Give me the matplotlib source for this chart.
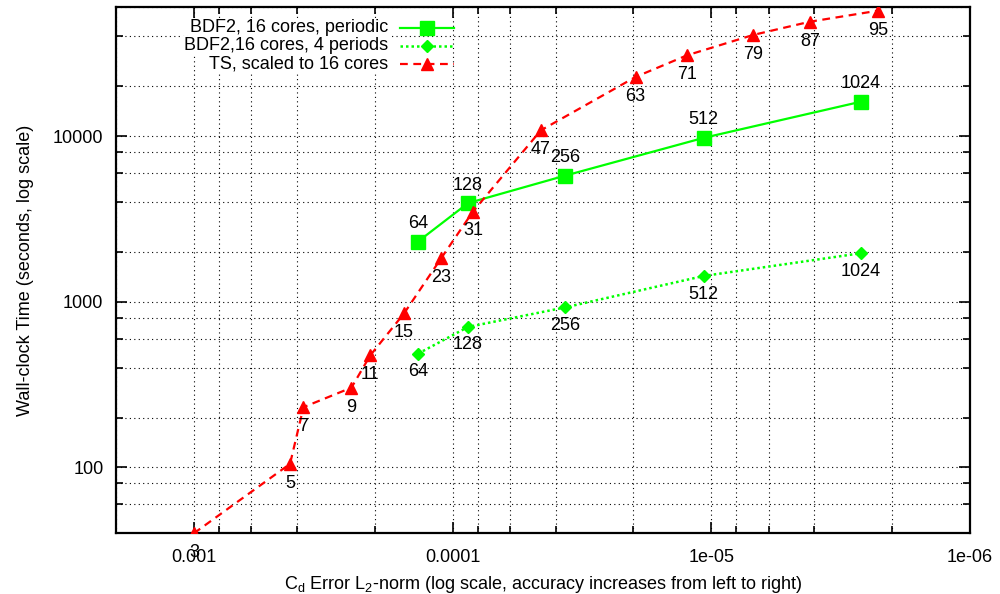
import matplotlib
matplotlib.use("Agg")
import matplotlib.pyplot as plt
from matplotlib.ticker import FixedLocator, NullFormatter

plt.rcParams["font.family"] = ["Liberation Sans", "DejaVu Sans"]
plt.rcParams["mathtext.fontset"] = "custom"
plt.rcParams["mathtext.rm"] = "Liberation Sans"
plt.rcParams["mathtext.it"] = "Liberation Sans:italic"

# --- data ---
# BDF2 runs (labels = number of time steps per period)
bdf_err = [1.36e-4, 8.71e-5, 3.67e-5, 1.07e-5, 2.64e-6]
bdf_periodic_time = [2311, 3945, 5780, 9770, 16150]
bdf_4periods_time = [486, 705, 925, 1432, 1964]
bdf_labels = ["64", "128", "256", "512", "1024"]

# time-spectral runs (labels = number of time instances)
ts_err = [1.0e-3, 4.25e-4, 3.77e-4, 2.46e-4, 2.08e-4, 1.54e-4, 1.107e-4,
          8.34e-5, 4.56e-5, 1.96e-5, 1.24e-5, 6.87e-6, 4.16e-6, 2.26e-6]
ts_time = [40, 105, 231, 303, 475, 851, 1832,
           3508, 10840, 22800, 30800, 40900, 49100, 57300]
ts_labels = ["3", "5", "7", "9", "11", "15", "23",
             "31", "47", "63", "71", "79", "87", "95"]

x_major = [1e-3, 1e-4, 1e-5, 1e-6]
x_major_labels = ["0.001", "0.0001", "1e-05", "1e-06"]
y_major = [100, 1000, 10000]
y_major_labels = ["100", "1000", "10000"]

GREEN = "#00ff00"
RED = "#ff0000"
FS = 13

fig = plt.figure(figsize=(10, 5.94), dpi=100)
ax = fig.add_axes([0.116, 0.1022, 0.854, 0.8855])

ax.plot(bdf_err, bdf_periodic_time, color=GREEN, lw=1.6, ls="-",
        marker="s", ms=10, zorder=3)
ax.plot(bdf_err, bdf_4periods_time, color=GREEN, lw=1.8, ls=(0, (1, 1.2)),
        marker="D", ms=6.5, zorder=3)
ax.plot(ts_err, ts_time, color=RED, lw=1.6, ls=(0, (3.5, 2.5)),
        marker="^", ms=9, zorder=3)

for x, y, s in zip(bdf_err, bdf_periodic_time, bdf_labels):
    ax.annotate(s, (x, y), xytext=(0, 13), textcoords="offset points",
                ha="center", va="center", fontsize=FS)
for x, y, s in zip(bdf_err, bdf_4periods_time, bdf_labels):
    ax.annotate(s, (x, y), xytext=(0, -13), textcoords="offset points",
                ha="center", va="center", fontsize=FS)
for x, y, s in zip(ts_err, ts_time, ts_labels):
    ax.annotate(s, (x, y), xytext=(0, -14), textcoords="offset points",
                ha="center", va="center", fontsize=FS, annotation_clip=False)

ax.set_xscale("log")
ax.set_yscale("log")
ax.set_xlim(2e-3, 1e-6)
ax.set_ylim(40, 60000)

x_minor = [m * 10.0 ** e for e in range(-7, -2) for m in (2, 4, 6, 8)]
y_minor = [m * 10.0 ** e for e in range(1, 5) for m in (2, 4, 6, 8)]
ax.xaxis.set_major_locator(FixedLocator(x_major))
ax.xaxis.set_minor_locator(FixedLocator(x_minor))
ax.yaxis.set_major_locator(FixedLocator(y_major))
ax.yaxis.set_minor_locator(FixedLocator(y_minor))
ax.set_xticklabels(x_major_labels)
ax.set_yticklabels(y_major_labels)
ax.xaxis.set_minor_formatter(NullFormatter())
ax.yaxis.set_minor_formatter(NullFormatter())

ax.tick_params(which="both", direction="in", top=True, right=True,
               labelsize=FS, width=1.2)
ax.tick_params(which="major", length=8)
ax.tick_params(which="minor", length=5)
ax.tick_params(axis="x", pad=11)
ax.tick_params(axis="y", pad=9)

ax.grid(True, which="both", color="black", lw=0.8, ls=(0, (1, 3)))
ax.set_axisbelow(True)
for sp in ax.spines.values():
    sp.set_linewidth(1.6)

ax.set_xlabel(r"C$_\mathrm{d}$ Error L$_\mathrm{2}$-norm (log scale, accuracy increases from left to right)",
              fontsize=FS, labelpad=6)
ax.set_ylabel("Wall-clock Time (seconds, log scale)", fontsize=FS, labelpad=14)

# legend drawn gnuplot style: right-aligned text, sample line on the right
legend_rows = [
    ("BDF2, 16 cores, periodic", GREEN, "-", "s", 10, 1.6),
    ("BDF2,16 cores, 4 periods", GREEN, (0, (1, 1.2)), "D", 6.5, 1.8),
    ("TS, scaled to 16 cores", RED, (0, (3.5, 2.5)), "^", 9, 1.6),
]
tx, lx0, lx1 = 0.3185, 0.3325, 0.3955
for i, (lab, c, ls, mk, ms, lw) in enumerate(legend_rows):
    yy = 0.9615 - i * 0.0345
    ax.text(tx, yy, lab, transform=ax.transAxes, ha="right", va="center",
            fontsize=FS, zorder=5,
            bbox=dict(facecolor="white", edgecolor="none", pad=1))
    ax.plot([lx0, lx1], [yy, yy], transform=ax.transAxes, color=c, ls=ls,
            lw=lw, zorder=5)
    ax.plot([(lx0 + lx1) / 2], [yy], transform=ax.transAxes, color=c,
            marker=mk, ms=ms, zorder=5)

fig.savefig("out.png", dpi=100)
